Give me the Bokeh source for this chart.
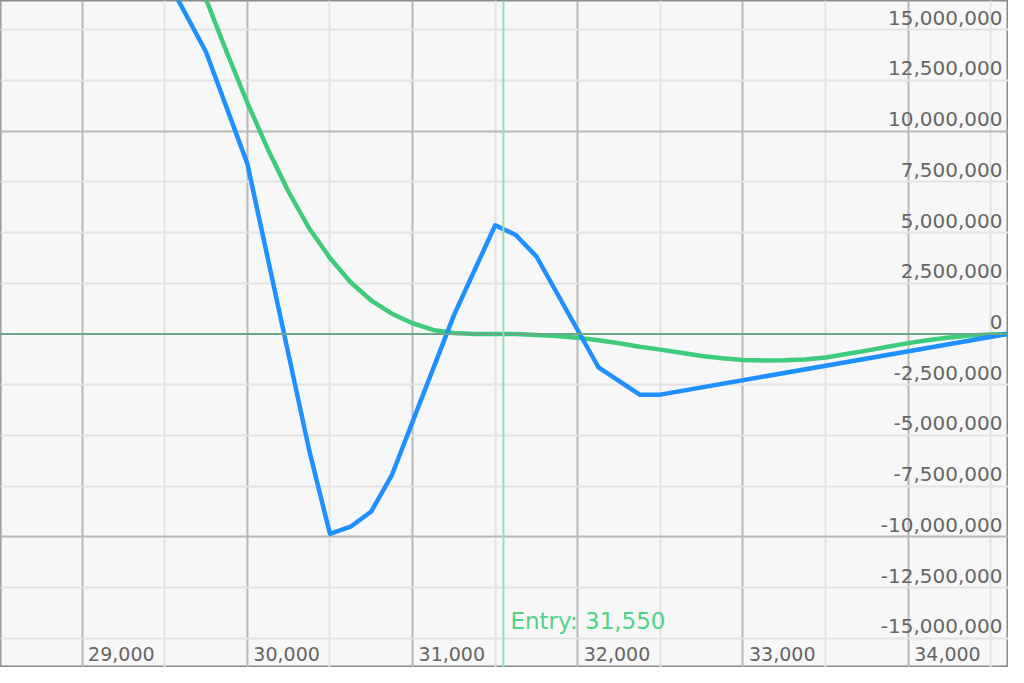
from bokeh.plotting import figure
from bokeh.models import ColumnDataSource, FixedTicker, Range1d, Span
from bokeh.core.properties import value
from bokeh.embed import file_html
from bokeh.resources import INLINE

# ---- data ----
blue_x = [29500, 29750, 30000, 30375, 30500, 30625, 30750, 30875, 31250, 31500,
          31625, 31750, 32125, 32375, 32500, 34600]
blue_y = [17.7e6, 13.9e6, 8.4e6, -5.75e6, -9.85e6, -9.5e6, -8.75e6, -6.95e6, 0.92e6, 5.36e6,
          4.88e6, 3.82e6, -1.64e6, -2.99e6, -2.99e6, 0.0]

green_x = [29500, 29625, 29750, 29875, 30000, 30125, 30250, 30375, 30500, 30625,
           30750, 30875, 31000, 31125, 31250, 31375, 31500, 31625, 31750, 31875,
           32000, 32125, 32250, 32375, 32500, 32625, 32750, 32875, 33000, 33125,
           33250, 33375, 33500, 33625, 33750, 33875, 34000, 34125, 34250, 34375,
           34500, 34625]
green_y = [22.4e6, 19.4e6, 16.5e6, 13.9e6, 11.4e6, 9.1e6, 7.0e6, 5.2e6, 3.75e6, 2.55e6,
           1.65e6, 1.0e6, 0.53e6, 0.2e6, 0.05e6, 0.0, 0.0, 0.0, -0.05e6, -0.1e6,
           -0.19e6, -0.31e6, -0.46e6, -0.63e6, -0.77e6, -0.92e6, -1.08e6, -1.2e6, -1.28e6, -1.31e6,
           -1.3e6, -1.26e6, -1.16e6, -0.99e6, -0.82e6, -0.63e6, -0.45e6, -0.3e6, -0.17e6, -0.07e6,
           -0.02e6, 0.0]

entry_price = 31550
entry_label = "Entry: 31,550"

x_ticks = [29000, 30000, 31000, 32000, 33000, 34000]
x_tick_labels = ["29,000", "30,000", "31,000", "32,000", "33,000", "34,000"]
x_minor = [28500, 29500, 30500, 31500, 32500, 33500, 34500]

y_ticks = [-15e6, -12.5e6, -10e6, -7.5e6, -5e6, -2.5e6, 0, 2.5e6, 5e6, 7.5e6, 10e6, 12.5e6, 15e6]
y_tick_labels = ["-15,000,000", "-12,500,000", "-10,000,000", "-7,500,000", "-5,000,000",
                 "-2,500,000", "0", "2,500,000", "5,000,000", "7,500,000", "10,000,000",
                 "12,500,000", "15,000,000"]
y_major = [-10e6, 10e6]
y_minor = [-15e6, -12.5e6, -7.5e6, -5e6, -2.5e6, 2.5e6, 5e6, 7.5e6, 12.5e6, 15e6]

X0, X1 = 28506, 34607
Y0, Y1 = -16.44e6, 16.44e6

p = figure(width=1008, height=667, output_backend="svg", toolbar_location=None,
           x_range=Range1d(X0, X1), y_range=Range1d(Y0, Y1),
           x_axis_location=None, y_axis_location=None, min_border=0,
           background_fill_color="#f7f7f7", border_fill_color="#ffffff",
           outline_line_color="#8a8a8a", outline_line_width=2)

p.xgrid.ticker = FixedTicker(ticks=x_ticks, minor_ticks=x_minor)
p.xgrid.grid_line_color = "#b8b8b8"
p.xgrid.grid_line_width = 2
p.xgrid.minor_grid_line_color = "#e3e3e3"
p.xgrid.minor_grid_line_width = 2

p.ygrid.ticker = FixedTicker(ticks=y_major, minor_ticks=y_minor)
p.ygrid.grid_line_color = "#b8b8b8"
p.ygrid.grid_line_width = 2
p.ygrid.minor_grid_line_color = "#e3e3e3"
p.ygrid.minor_grid_line_width = 2

# zero line and entry line
p.add_layout(Span(location=0, dimension="width", line_color="#6aa88a", line_width=2))
p.add_layout(Span(location=entry_price, dimension="height", line_color="#95e0b6", line_width=2))

p.line(green_x, green_y, line_color="#3ecb7c", line_width=4.5, line_join="round")
p.line(blue_x, blue_y, line_color="#1e90ff", line_width=4.5, line_join="round")

# tick labels
xs = ColumnDataSource(dict(x=x_ticks, y=[Y0] * len(x_ticks), t=x_tick_labels))
p.text(x="x", y="y", text="t", source=xs, text_font=value("DejaVu Sans"),
       text_font_size="19px", text_color="#666666", text_baseline="alphabetic",
       text_align="left", x_offset=6, y_offset=-14)

ys = ColumnDataSource(dict(x=[X1] * len(y_ticks), y=y_ticks, t=y_tick_labels))
p.text(x="x", y="y", text="t", source=ys, text_font=value("DejaVu Sans"),
       text_font_size="20px", text_color="#666666", text_baseline="alphabetic",
       text_align="right", x_offset=-6, y_offset=-12)

es = ColumnDataSource(dict(x=[entry_price], y=[Y0], t=[entry_label]))
p.text(x="x", y="y", text="t", source=es, text_font=value("DejaVu Sans"),
       text_font_size="23px", text_color="#4fd38c", text_baseline="alphabetic",
       text_align="left", x_offset=7, y_offset=-47)

open("out.html", "w").write(file_html(p, INLINE))
